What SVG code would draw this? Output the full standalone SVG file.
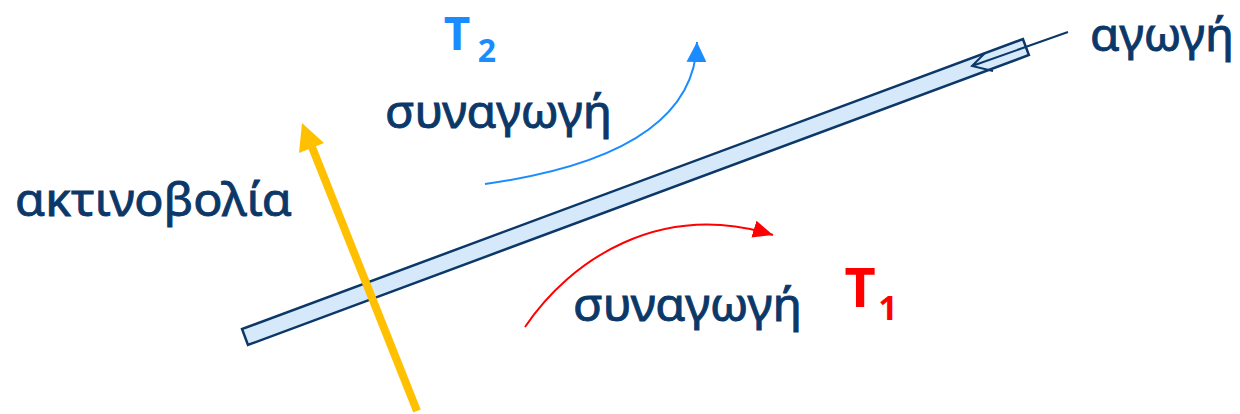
<svg xmlns="http://www.w3.org/2000/svg" width="1240" height="414" viewBox="0 0 1240 414">
<defs>
<style>
.lbl{font-family:"Noto Sans","DejaVu Sans",sans-serif;font-size:46px;fill:#0b3868;stroke:#0b3868;stroke-width:0.9px}
.tt{font-family:"Noto Sans","DejaVu Sans",sans-serif;font-weight:bold}
.navy{stroke:#0b3868;fill:none;stroke-width:2}
</style>
<marker id="headBlue" markerUnits="userSpaceOnUse" markerWidth="20" markerHeight="20" viewBox="0 0 16 16" refX="16" refY="8" orient="auto">
<path d="M0,0 L16,8 L0,16 z" fill="#1a8cff"/>
</marker>
<marker id="headRed" markerUnits="userSpaceOnUse" markerWidth="20" markerHeight="20" viewBox="0 0 16 16" refX="16" refY="8" orient="auto">
<path d="M0,1 L16,8 L0,15 z" fill="#ff0000"/>
</marker>
</defs>
<rect width="1240" height="414" fill="#ffffff"/>

<g id="bar">
<rect x="0" y="-8.5" width="833" height="17" transform="translate(245,337) rotate(-20.37)" fill="#d6e9fb" stroke="#0b3868" stroke-width="2.5"/>
</g>

<g id="connectors">
<path id="conduction" class="navy" d="M1068,32 L972,66 M985,53 L972,66 L993,71"/>
<path id="convection-top" d="M485,184 C620,165 695,120 697,42" fill="none" stroke="#1a8cff" stroke-width="2" marker-end="url(#headBlue)"/>
<path id="convection-bottom" d="M525,327 C570,260 660,200 773,235" fill="none" stroke="#ff0000" stroke-width="2" marker-end="url(#headRed)"/>
<g id="radiation">
<line x1="417" y1="411" x2="310" y2="142" stroke="#ffc000" stroke-width="8"/>
<polygon points="302,123 299,153 324,143" fill="#ffc000"/>
</g>
</g>

<g id="label-radiation"><text class="lbl" x="15" y="216" textLength="277" lengthAdjust="spacingAndGlyphs">ακτινοβολία</text></g>
<g id="label-conv-top"><text class="lbl" x="385" y="128" textLength="227" lengthAdjust="spacingAndGlyphs">συναγωγή</text></g>
<g id="label-conv-bottom"><text class="lbl" x="573" y="321" textLength="229" lengthAdjust="spacingAndGlyphs">συναγωγή</text></g>
<g id="label-conduction"><text class="lbl" x="1090" y="51" textLength="144" lengthAdjust="spacingAndGlyphs">αγωγή</text></g>

<g id="T2" fill="#1a8cff">
<text class="tt" x="457" y="50" font-size="46" text-anchor="middle">T</text>
<text class="tt" x="487" y="62" font-size="32" text-anchor="middle">2</text>
</g>
<g id="T1" fill="#ff0000">
<text class="tt" x="860" y="307" font-size="54" text-anchor="middle">T</text>
<text class="tt" x="888" y="320" font-size="34" text-anchor="middle">1</text>
</g>
</svg>
